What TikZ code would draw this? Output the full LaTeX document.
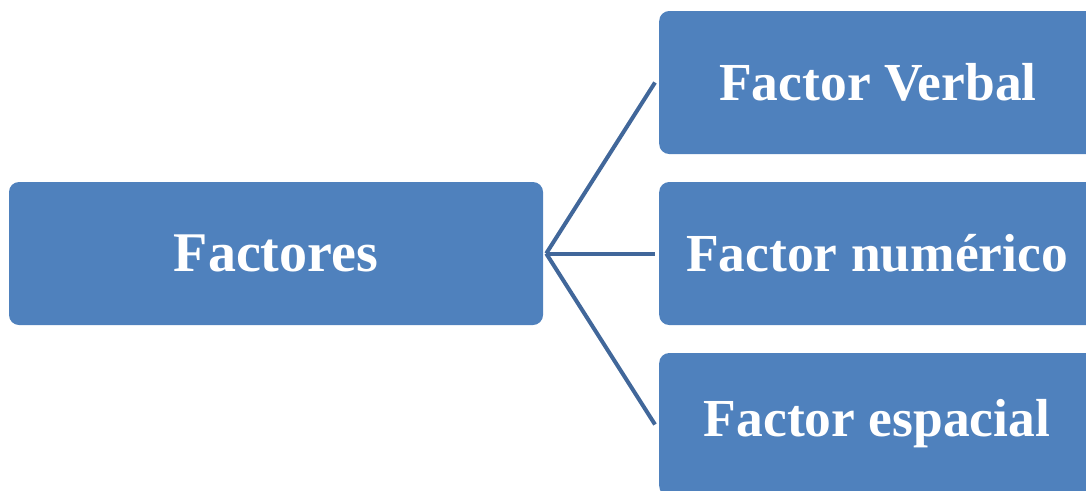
\documentclass[tikz,border=0pt]{standalone}
\usepackage{fontspec}
\setmainfont{Liberation Serif}
\definecolor{boxblue}{HTML}{4F81BD}
\definecolor{linkblue}{HTML}{41679A}
\begin{document}
\begin{tikzpicture}[x=1pt,y=-1pt,
  factorbox/.style={fill=boxblue, rounded corners=10pt, inner sep=0pt,
    text=white, font=\fontsize{56}{64}\selectfont\bfseries},
  label/.style={text=white, font=\fontsize{53.5}{60}\selectfont\bfseries},
  link/.style={draw=linkblue, line width=4pt}]
  \clip (0,0) rectangle (1086,490);
  \useasboundingbox (0,0) rectangle (1086,490);
  % root box
  \node[factorbox, minimum width=534pt, minimum height=143pt] (root) at (276,253.5) {Factores};
  % child boxes (running off the right edge)
  \node[factorbox, minimum width=440pt, minimum height=143pt, anchor=west] (verbal) at (659,82.5) {};
  \node[factorbox, minimum width=440pt, minimum height=143pt, anchor=west] (numeric) at (659,253.5) {};
  \node[factorbox, minimum width=440pt, minimum height=143pt, anchor=west] (spatial) at (659,424.5) {};
  \node[label] (verbaltxt) at (878,82) {Factor Verbal};
  \node[label] (numerictxt) at (877,253) {Factor numérico};
  \node[label] (spatialtxt) at (877,424) {Factor espacial};
  % connectors
  \coordinate (hub) at ([xshift=3pt]root.east);
  \coordinate (v) at ([xshift=-4pt]verbal.west);
  \coordinate (n) at ([xshift=-4pt]numeric.west);
  \coordinate (s) at ([xshift=-4pt]spatial.west);
  \draw[link] (hub) -- (v);
  \draw[link] (hub) -- (n);
  \draw[link] (hub) -- (s);
\end{tikzpicture}
\end{document}
